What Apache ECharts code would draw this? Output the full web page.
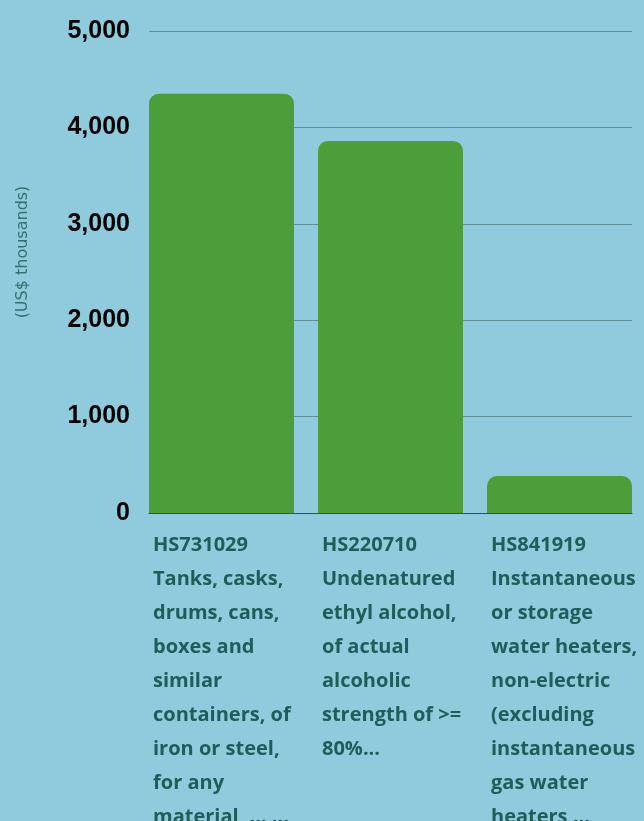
<!DOCTYPE html>
<html>
<head>
<meta charset="utf-8">
<script src="https://cdn.jsdelivr.net/npm/echarts@6/dist/echarts.min.js"></script>
<style>
  html, body { margin: 0; padding: 0; background: #8fcbdc; }
  #chart { width: 644px; height: 821px; }
</style>
</head>
<body>
<div id="chart"></div>
<script>
// product codes + descriptions (pre-wrapped as shown)
const categories = [
  "HS731029\nTanks, casks,\ndrums, cans,\nboxes and\nsimilar\ncontainers, of\niron or steel,\nfor any\nmaterial, ... ...",
  "HS220710\nUndenatured\nethyl alcohol,\nof actual\nalcoholic\nstrength of >=\n80%...",
  "HS841919\nInstantaneous\nor storage\nwater heaters,\nnon-electric\n(excluding\ninstantaneous\ngas water\nheaters ..."
];
// US$ thousands
const values = [4350, 3860, 383];
const yTicks = [0, 1000, 2000, 3000, 4000, 5000];

const chart = echarts.init(document.getElementById("chart"));

const yMax = yTicks[yTicks.length - 1];

const option = {
  backgroundColor: "#8fcbdc",
  grid: [
    // grid with gridlines / y labels
    { left: 149, right: 12, top: 31, bottom: 308, outerBoundsMode: "none" },
    // grid holding the bars
    { left: 137, right: 0, top: 31, bottom: 308, outerBoundsMode: "none" }
  ],
  xAxis: [
    {
      type: "category",
      gridIndex: 0,
      data: categories,
      axisLine: { show: true, lineStyle: { color: "#2f5258", width: 1 } },
      axisTick: { show: false },
      axisLabel: { show: false }
    },
    {
      type: "category",
      gridIndex: 1,
      data: categories,
      axisLine: { show: false },
      axisTick: { show: false },
      axisLabel: {
        interval: 0,
        margin: 15,
        width: 145,
        align: "center",
        formatter: function (v) {
          return v.split("\n").map(function (l) { return "{a|" + l + "}"; }).join("\n");
        },
        rich: {
          a: {
            align: "left",
            padding: [0, 0, 0, 4],
            color: "#1e5e5a",
            fontFamily: "Open Sans",
            fontWeight: "bold",
            fontSize: 20,
            lineHeight: 34
          }
        }
      }
    }
  ],
  yAxis: [
    {
      type: "value",
      gridIndex: 0,
      min: 0,
      max: yMax,
      interval: 1000,
      name: "(US$ thousands)",
      nameLocation: "middle",
      nameGap: 118,
      nameTextStyle: {
        color: "#2f7470",
        fontFamily: "DejaVu Sans",
        fontSize: 16,
        padding: [0, 0, 0, 40]
      },
      axisLine: { show: false },
      axisTick: { show: false },
      axisLabel: {
        margin: 19,
        color: "#000000",
        fontFamily: "Liberation Sans",
        fontWeight: "bold",
        fontSize: 25,
        formatter: function (v) { return v.toLocaleString("en-US"); }
      },
      splitLine: { show: true, lineStyle: { color: "#5f8f98", width: 1 } }
    },
    {
      type: "value",
      gridIndex: 1,
      min: 0,
      max: yMax,
      interval: 1000,
      show: false,
      splitLine: { show: false }
    }
  ],
  series: [
    {
      name: "Imports",
      type: "bar",
      xAxisIndex: 1,
      yAxisIndex: 1,
      barWidth: 145,
      data: values,
      itemStyle: {
        color: "#4b9e3a",
        borderRadius: [10, 10, 0, 0]
      }
    }
  ]
};

chart.setOption(option);
</script>
</body>
</html>
